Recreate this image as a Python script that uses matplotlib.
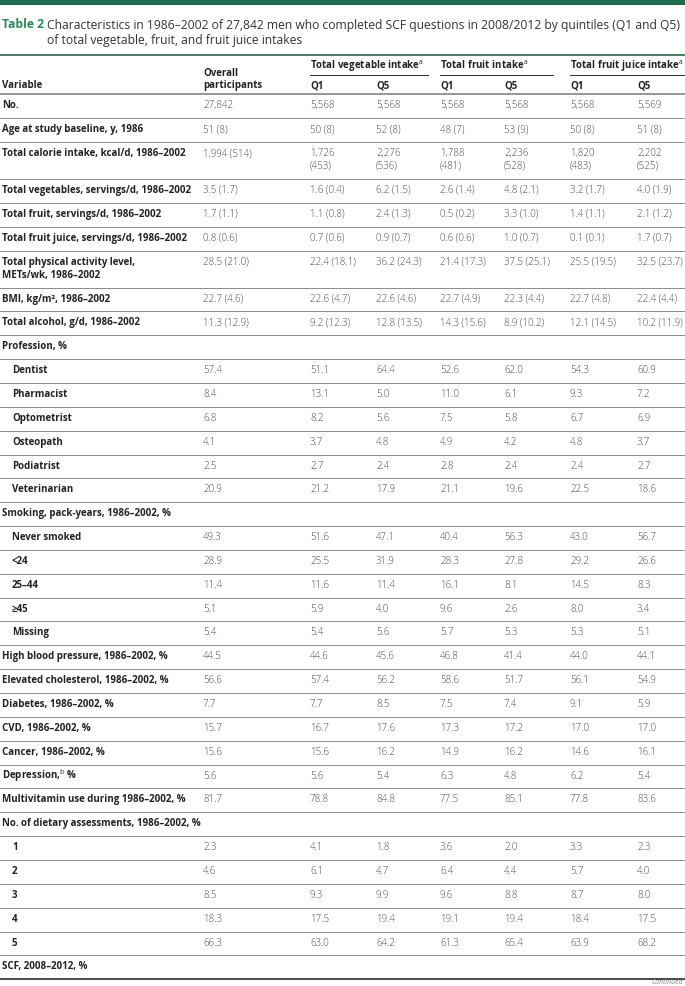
import matplotlib.pyplot as plt

plt.rcParams['font.family'] = ['Open Sans', 'DejaVu Sans']
plt.rcParams['mathtext.fontset'] = 'custom'
plt.rcParams['mathtext.rm'] = 'Open Sans'
plt.rcParams['mathtext.bf'] = 'Open Sans:bold'

# ── Table content ──────────────────────────────────────────────────────────────
title_num = 'Table 2'
title_lines = ['Characteristics in 1986–2002 of 27,842 men who completed SCF questions in 2008/2012 by quintiles (Q1 and Q5)',
               'of total vegetable, fruit, and fruit juice intakes']
groups = [r'Total vegetable intake$^{\mathrm{a}}$', r'Total fruit intake$^{\mathrm{a}}$',
          r'Total fruit juice intake$^{\mathrm{a}}$']
sub_headers = ['Q1', 'Q5', 'Q1', 'Q5', 'Q1', 'Q5']

variables = ['No.', 'Age at study baseline, y, 1986', 'Total calorie intake, kcal/d, 1986–2002',
             'Total vegetables, servings/d, 1986–2002', 'Total fruit, servings/d, 1986–2002',
             'Total fruit juice, servings/d, 1986–2002',
             'Total physical activity level,\nMETs/wk, 1986–2002',
             'BMI, kg/m², 1986–2002', 'Total alcohol, g/d, 1986–2002', 'Profession, %',
             'Dentist', 'Pharmacist', 'Optometrist', 'Osteopath', 'Podiatrist', 'Veterinarian',
             'Smoking, pack-years, 1986–2002, %', 'Never smoked', '<24', '25–44', '≥45', 'Missing',
             'High blood pressure, 1986–2002, %', 'Elevated cholesterol, 1986–2002, %',
             'Diabetes, 1986–2002, %', 'CVD, 1986–2002, %', 'Cancer, 1986–2002, %',
             r'Depression,$^{\mathrm{b}}$ %', 'Multivitamin use during 1986–2002, %',
             'No. of dietary assessments, 1986–2002, %', '1', '2', '3', '4', '5', 'SCF, 2008–2012, %']
indented = [0]*10 + [1]*6 + [0] + [1]*5 + [0]*8 + [1]*5 + [0]

overall = ['27,842', '51 (8)', '1,994 (514)', '3.5 (1.7)', '1.7 (1.1)', '0.8 (0.6)', '28.5 (21.0)',
           '22.7 (4.6)', '11.3 (12.9)', '',
           '57.4', '8.4', '6.8', '4.1', '2.5', '20.9', '',
           '49.3', '28.9', '11.4', '5.1', '5.4', '44.5', '56.6', '7.7', '15.7', '15.6', '5.6', '81.7', '',
           '2.3', '4.6', '8.5', '18.3', '66.3', '']
veg_q1 = ['5,568', '50 (8)', '1,726\n(453)', '1.6 (0.4)', '1.1 (0.8)', '0.7 (0.6)', '22.4 (18.1)',
          '22.6 (4.7)', '9.2 (12.3)', '',
          '51.1', '13.1', '8.2', '3.7', '2.7', '21.2', '',
          '51.6', '25.5', '11.6', '5.9', '5.4', '44.6', '57.4', '7.7', '16.7', '15.6', '5.6', '78.8', '',
          '4.1', '6.1', '9.3', '17.5', '63.0', '']
veg_q5 = ['5,568', '52 (8)', '2,276\n(536)', '6.2 (1.5)', '2.4 (1.3)', '0.9 (0.7)', '36.2 (24.3)',
          '22.6 (4.6)', '12.8 (13.5)', '',
          '64.4', '5.0', '5.6', '4.8', '2.4', '17.9', '',
          '47.1', '31.9', '11.4', '4.0', '5.6', '45.6', '56.2', '8.5', '17.6', '16.2', '5.4', '84.8', '',
          '1.8', '4.7', '9.9', '19.4', '64.2', '']
fruit_q1 = ['5,568', '48 (7)', '1,788\n(481)', '2.6 (1.4)', '0.5 (0.2)', '0.6 (0.6)', '21.4 (17.3)',
            '22.7 (4.9)', '14.3 (15.6)', '',
            '52.6', '11.0', '7.5', '4.9', '2.8', '21.1', '',
            '40.4', '28.3', '16.1', '9.6', '5.7', '46.8', '58.6', '7.5', '17.3', '14.9', '6.3', '77.5', '',
            '3.6', '6.4', '9.6', '19.1', '61.3', '']
fruit_q5 = ['5,568', '53 (9)', '2,236\n(528)', '4.8 (2.1)', '3.3 (1.0)', '1.0 (0.7)', '37.5 (25.1)',
            '22.3 (4.4)', '8.9 (10.2)', '',
            '62.0', '6.1', '5.8', '4.2', '2.4', '19.6', '',
            '56.3', '27.8', '8.1', '2.6', '5.3', '41.4', '51.7', '7.4', '17.2', '16.2', '4.8', '85.1', '',
            '2.0', '4.4', '8.8', '19.4', '65.4', '']
juice_q1 = ['5,568', '50 (8)', '1,820\n(483)', '3.2 (1.7)', '1.4 (1.1)', '0.1 (0.1)', '25.5 (19.5)',
            '22.7 (4.8)', '12.1 (14.5)', '',
            '54.3', '9.3', '6.7', '4.8', '2.4', '22.5', '',
            '43.0', '29.2', '14.5', '8.0', '5.3', '44.0', '56.1', '9.1', '17.0', '14.6', '6.2', '77.8', '',
            '3.3', '5.7', '8.7', '18.4', '63.9', '']
juice_q5 = ['5,569', '51 (8)', '2,202\n(525)', '4.0 (1.9)', '2.1 (1.2)', '1.7 (0.7)', '32.5 (23.7)',
            '22.4 (4.4)', '10.2 (11.9)', '',
            '60.9', '7.2', '6.9', '3.7', '2.7', '18.6', '',
            '56.7', '26.6', '8.3', '3.4', '5.1', '44.1', '54.9', '5.9', '17.0', '16.1', '5.4', '83.6', '',
            '2.3', '4.0', '8.0', '17.5', '68.2', '']

# ── Figure (axes in pixel units) ───────────────────────────────────────────────
W, H = 685, 986
fig = plt.figure(figsize=(W / 100, H / 100), dpi=100)
ax = fig.add_axes([0, 0, 1, 1])
ax.set_xlim(0, W); ax.set_ylim(H, 0); ax.axis('off')

GREEN = '#1e6b4e'
LABEL_C = '#222222'
VAL_C = '#4d4d4d'
FS = 7.0
PX = 0.72  # points per pixel at 100 dpi


def put(x, y, s, weight='light', color=None, size=FS, step=13):
    # multi-line cells: one text per line so every line sits on its own baseline
    for k, line in enumerate(s.split('\n')):
        ax.text(x, y + k * step, line, fontsize=size, va='baseline', fontweight=weight,
                color=color or (LABEL_C if weight == 'bold' else VAL_C))


ax.add_patch(plt.Rectangle((0, 0), W, 5, color=GREEN, lw=0))
put(2, 28.5, title_num, weight='bold', color='#2a8a5e', size=8.7)
put(47, 28.5, title_lines[0], weight='normal', color='#333333', size=8.7)
put(47, 44, title_lines[1], weight='normal', color='#333333', size=8.7)
ax.plot([0, W], [55, 55], color='#4e7f6b', lw=2 * PX)

x_label = 2
x_overall = 203
x_cols = [310, 376, 440, 504, 570, 637]
group_span = [(310, 428), (440, 553), (570, W)]

for (x0, x1), g in zip(group_span, groups):
    put(x0, 69, g, weight='bold')
    ax.plot([x0, x1], [75, 75], color='#333333', lw=1 * PX)
put(x_overall, 76.5, 'Overall', weight='bold')
put(x_overall, 88, 'participants', weight='bold')
put(x_label, 88, 'Variable', weight='bold')
for x, s in zip(x_cols, sub_headers):
    put(x, 88, s, weight='bold')
ax.plot([0, W], [94, 94], color='#999999', lw=2 * PX)

# ── Body rows ──────────────────────────────────────────────────────────────────
columns = [veg_q1, veg_q5, fruit_q1, fruit_q5, juice_q1, juice_q5]
y = 94.3
H1, H2 = 23.85, 37.0
for i, var in enumerate(variables):
    cells = [overall[i]] + [c[i] for c in columns]
    double = '\n' in var or any('\n' in c for c in cells)
    h = H2 if double else H1
    base = y + 14
    put(x_label + 10 * indented[i], base, var, weight='bold')
    put(x_overall, base, overall[i])
    for x, c in zip(x_cols, columns):
        put(x, base, c[i])
    y += h
    last = i == len(variables) - 1
    ax.plot([0, W], [y, y], color='#222222' if last else '#8f8f8f', lw=(1.6 if last else 1.0) * PX)

ax.text(683, 986, 'Continued', fontsize=5, color='#888888', style='italic', ha='right', va='bottom')

fig.savefig('out.png', dpi=100)
